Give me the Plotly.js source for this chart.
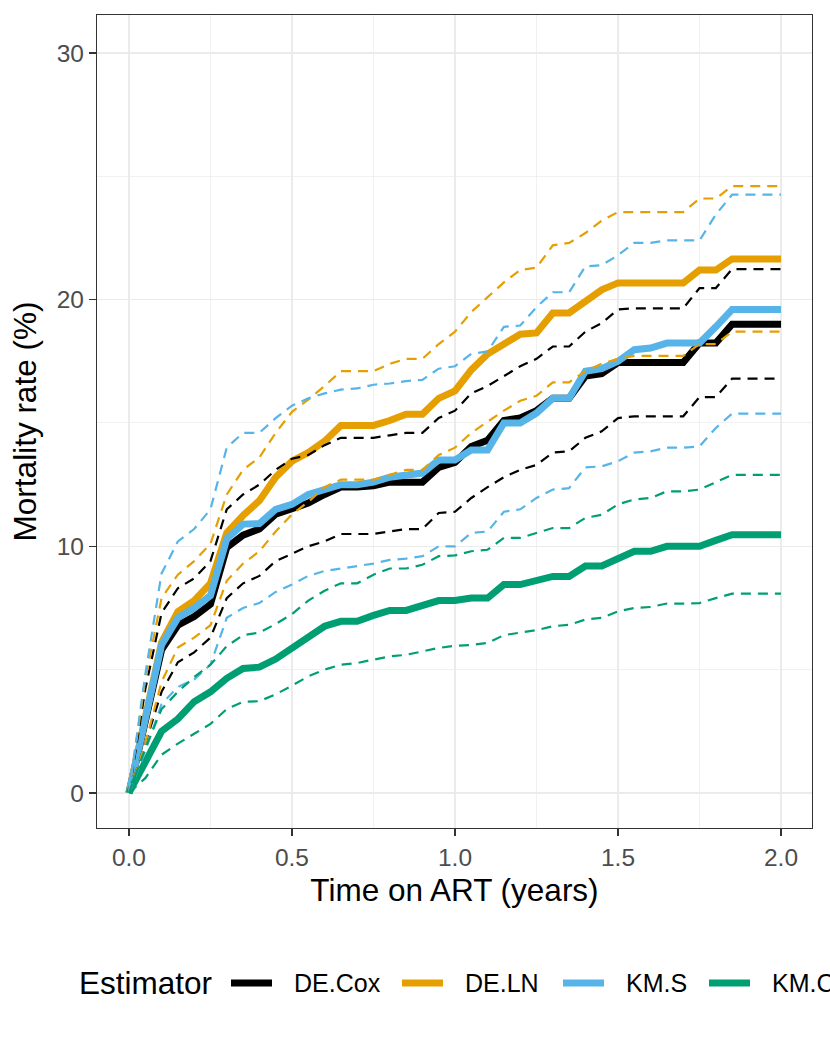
<!DOCTYPE html>
<html>
<head>
<meta charset="utf-8">
<script src="https://cdn.plot.ly/plotly-3.0.1.min.js"></script>
<style>
  html, body { margin: 0; padding: 0; background: #fff; }
  #chart { width: 830px; height: 1038px; }
</style>
</head>
<body>
<div id="chart"></div>
<script>
// Time on ART (years)
const timeYears = [
    0.00, 0.05, 0.10, 0.15, 0.20, 0.25, 0.30, 0.35, 0.40, 0.45,
    0.50, 0.55, 0.60, 0.65, 0.70, 0.75, 0.80, 0.85, 0.90, 0.95,
    1.00, 1.05, 1.10, 1.15, 1.20, 1.25, 1.30, 1.35, 1.40, 1.45,
    1.50, 1.55, 1.60, 1.65, 1.70, 1.75, 1.80, 1.85, 1.90, 1.95, 2.00,
];

const estimators = ['DE.Cox', 'DE.LN', 'KM.S', 'KM.C'];
const estimatorColors = ['#000000', '#E69F00', '#56B4E9', '#009E73'];

// Mortality rate (%) - point estimates
const coxEst = [
    0, 2.9, 5.8, 6.8, 7.15, 7.65, 9.95, 10.45, 10.7, 11.3,
    11.55, 11.75, 12.1, 12.4, 12.4, 12.45, 12.6, 12.6, 12.6, 13.2,
    13.4, 14.05, 14.3, 15.1, 15.2, 15.5, 16.0, 16.0, 16.9, 17.0,
    17.45, 17.45, 17.45, 17.45, 17.45, 18.24, 18.24, 19.0, 19.0, 19.0, 19.0,
];
const lnEst = [
    0, 3.0, 6.1, 7.35, 7.8, 8.5, 10.55, 11.25, 11.85, 12.8,
    13.45, 13.8, 14.26, 14.9, 14.9, 14.9, 15.1, 15.35, 15.35, 16.0,
    16.3, 17.15, 17.8, 18.2, 18.6, 18.65, 19.46, 19.46, 19.9, 20.4,
    20.68, 20.68, 20.68, 20.68, 20.68, 21.2, 21.2, 21.65, 21.65, 21.65, 21.65,
];
const kmsEst = [
    0, 3.0, 6.0, 7.1, 7.5, 8.0, 10.3, 10.9, 10.92, 11.5,
    11.7, 12.1, 12.3, 12.5, 12.5, 12.6, 12.8, 12.9, 12.97, 13.5,
    13.5, 13.9, 13.9, 15.0, 15.0, 15.4, 16.0, 16.0, 17.1, 17.2,
    17.5, 17.97, 18.04, 18.24, 18.24, 18.24, 18.9, 19.6, 19.6, 19.6, 19.6,
];
const kmcEst = [
    0, 1.2, 2.5, 3.0, 3.7, 4.1, 4.65, 5.05, 5.1, 5.43,
    5.85, 6.35, 6.76, 6.96, 6.96, 7.2, 7.4, 7.4, 7.6, 7.8,
    7.8, 7.9, 7.9, 8.45, 8.45, 8.65, 8.78, 8.78, 9.2, 9.2,
    9.5, 9.8, 9.8, 10.0, 10.0, 10.0, 10.24, 10.47, 10.47, 10.47, 10.47,
];

// Confidence bounds
const coxLow = [
    0, 2.0, 4.1, 5.3, 5.7, 6.3, 7.9, 8.5, 8.8, 9.4,
    9.7, 10.0, 10.2, 10.5, 10.5, 10.5, 10.6, 10.7, 10.7, 11.35,
    11.4, 11.96, 12.4, 12.8, 13.1, 13.3, 13.8, 13.85, 14.4, 14.66,
    15.2, 15.27, 15.27, 15.27, 15.27, 16.05, 16.05, 16.8, 16.8, 16.8, 16.8,
];
const coxHigh = [
    0, 4.2, 7.3, 8.3, 8.7, 9.4, 11.5, 12.1, 12.5, 13.1,
    13.55, 13.7, 14.1, 14.4, 14.4, 14.4, 14.5, 14.6, 14.6, 15.2,
    15.5, 16.2, 16.5, 16.9, 17.3, 17.6, 18.1, 18.1, 18.7, 19.05,
    19.6, 19.65, 19.65, 19.65, 19.65, 20.47, 20.47, 21.24, 21.24, 21.24, 21.24,
];
const lnLow = [
    0, 2.0, 4.5, 5.9, 6.3, 6.8, 8.6, 9.3, 9.8, 10.6,
    11.3, 11.8, 12.4, 12.7, 12.7, 12.7, 12.9, 13.1, 13.1, 13.7,
    14.0, 14.6, 15.05, 15.5, 15.9, 16.1, 16.65, 16.65, 17.1, 17.4,
    17.6, 17.72, 17.72, 17.72, 17.72, 18.2, 18.2, 18.7, 18.7, 18.7, 18.7,
];
const lnHigh = [
    0, 4.6, 7.9, 8.85, 9.4, 10.1, 12.1, 13.1, 13.6, 14.6,
    15.45, 15.95, 16.5, 17.1, 17.1, 17.1, 17.4, 17.6, 17.6, 18.2,
    18.7, 19.5, 20.1, 20.7, 21.2, 21.3, 22.2, 22.3, 22.7, 23.2,
    23.55, 23.55, 23.55, 23.55, 23.55, 24.1, 24.1, 24.6, 24.6, 24.6, 24.6,
];
const kmsLow = [
    0, 1.7, 3.6, 4.3, 4.6, 5.2, 7.1, 7.5, 7.7, 8.15,
    8.45, 8.8, 9.0, 9.1, 9.2, 9.3, 9.45, 9.5, 9.6, 10.0,
    10.0, 10.54, 10.6, 11.4, 11.5, 11.96, 12.3, 12.36, 13.2, 13.24,
    13.45, 13.8, 13.85, 14.0, 14.0, 14.05, 14.8, 15.38, 15.38, 15.38, 15.38,
];
const kmsHigh = [
    0, 4.8, 8.9, 10.2, 10.7, 11.5, 14.0, 14.6, 14.6, 15.2,
    15.7, 16.0, 16.2, 16.35, 16.4, 16.55, 16.6, 16.7, 16.75, 17.2,
    17.3, 17.8, 17.9, 18.9, 18.95, 19.7, 20.3, 20.3, 21.35, 21.4,
    21.8, 22.3, 22.3, 22.4, 22.4, 22.4, 23.45, 24.26, 24.26, 24.26, 24.26,
];
const kmcLow = [
    0, 0.6, 1.55, 2.0, 2.4, 2.8, 3.4, 3.7, 3.72, 4.0,
    4.35, 4.73, 5.0, 5.2, 5.27, 5.4, 5.54, 5.6, 5.74, 5.88,
    5.97, 6.0, 6.08, 6.4, 6.5, 6.6, 6.76, 6.82, 7.03, 7.1,
    7.36, 7.5, 7.54, 7.68, 7.68, 7.7, 7.9, 8.08, 8.08, 8.08, 8.08,
];
const kmcHigh = [
    0, 1.8, 3.4, 4.1, 4.7, 5.2, 5.95, 6.4, 6.5, 6.85,
    7.25, 7.8, 8.2, 8.5, 8.5, 8.85, 9.1, 9.1, 9.25, 9.6,
    9.63, 9.8, 9.86, 10.34, 10.34, 10.54, 10.74, 10.74, 11.15, 11.28,
    11.7, 11.9, 11.96, 12.23, 12.23, 12.3, 12.6, 12.9, 12.9, 12.9, 12.9,
];

const estimates = [coxEst, lnEst, kmsEst, kmcEst];
const lowers = [coxLow, lnLow, kmsLow, kmcLow];
const uppers = [coxHigh, lnHigh, kmsHigh, kmcHigh];

const xTicks = [0, 0.5, 1.0, 1.5, 2.0];
const xTickText = ['0.0', '0.5', '1.0', '1.5', '2.0'];
const yTicks = [0, 10, 20, 30];

// Plot geometry (px) used for the hand-built legend
const W = 830, H = 1038;
const M = { l: 97, r: 18, t: 15, b: 210 };
const PW = W - M.l - M.r, PH = H - M.t - M.b;
const px2x = px => (px - M.l) / PW;
const px2y = py => (H - M.b - py) / PH;

const traces = [];

// point estimates, thick solid
estimates.forEach((ys, i) => {
    traces.push({
        x: timeYears, y: ys, type: 'scatter', mode: 'lines',
        name: estimators[i], showlegend: false,
        line: { color: estimatorColors[i], width: 7 },
        hoverinfo: 'skip',
    });
});

// confidence bounds, thin dashed
estimators.forEach((name, i) => {
    for (const ys of [lowers[i], uppers[i]]) {
        traces.push({
            x: timeYears, y: ys, type: 'scatter', mode: 'lines',
            name: name, showlegend: false,
            line: { color: estimatorColors[i], width: 2.2, dash: '10px,7px' },
            hoverinfo: 'skip',
        });
    }
});

// Legend: keys and labels along the bottom (runs past the right edge, as in the original)
const legendY = 983;
const keyX = [231, 402, 563, 709];
const keyW = 41;
const shapes = [];
const annotations = [];
estimators.forEach((name, i) => {
    shapes.push({
        type: 'line', xref: 'paper', yref: 'paper',
        x0: px2x(keyX[i]), x1: px2x(keyX[i] + keyW),
        y0: px2y(legendY), y1: px2y(legendY),
        line: { color: estimatorColors[i], width: 7 },
    });
    annotations.push({
        xref: 'paper', yref: 'paper', showarrow: false,
        x: px2x(keyX[i] + 61), y: px2y(legendY),
        xanchor: 'left', yanchor: 'middle',
        text: name,
        font: { size: 25, color: '#000000' },
    });
});
annotations.push({
    xref: 'paper', yref: 'paper', showarrow: false,
    x: px2x(77), y: px2y(legendY),
    xanchor: 'left', yanchor: 'middle',
    text: 'Estimator',
    font: { size: 31.5, color: '#000000' },
});

const gridColor = '#ebebeb';
const axisCommon = {
    showline: true, mirror: true, linecolor: '#333333', linewidth: 1.1,
    ticks: 'outside', ticklen: 7, tickwidth: 1.1, tickcolor: '#333333',
    tickfont: { size: 24.5, color: '#4d4d4d' },
    showgrid: true, gridcolor: gridColor, gridwidth: 1.3,
    zeroline: false,
};

const layout = {
    width: W, height: H,
    margin: M,
    paper_bgcolor: '#ffffff',
    plot_bgcolor: '#ffffff',
    font: { family: 'Liberation Sans, Arial, sans-serif', color: '#000000' },
    showlegend: false,
    xaxis: {
        ...axisCommon,
        range: [-0.098, 2.095],
        tickvals: xTicks, ticktext: xTickText,
        minor: { dtick: 0.25, tick0: 0, showgrid: true, gridcolor: gridColor, gridwidth: 0.7, ticks: '' },
        title: { text: 'Time on ART (years)', font: { size: 31.5, color: '#000000' }, standoff: 9 },
    },
    yaxis: {
        ...axisCommon,
        range: [-1.42, 31.54],
        tickvals: yTicks,
        minor: { dtick: 5, tick0: 0, showgrid: true, gridcolor: gridColor, gridwidth: 0.7, ticks: '' },
        title: { text: 'Mortality rate (%)', font: { size: 31.5, color: '#000000' }, standoff: 10 },
    },
    shapes: shapes,
    annotations: annotations,
};

Plotly.newPlot('chart', traces, layout, { staticPlot: true, displayModeBar: false });
</script>
</body>
</html>
